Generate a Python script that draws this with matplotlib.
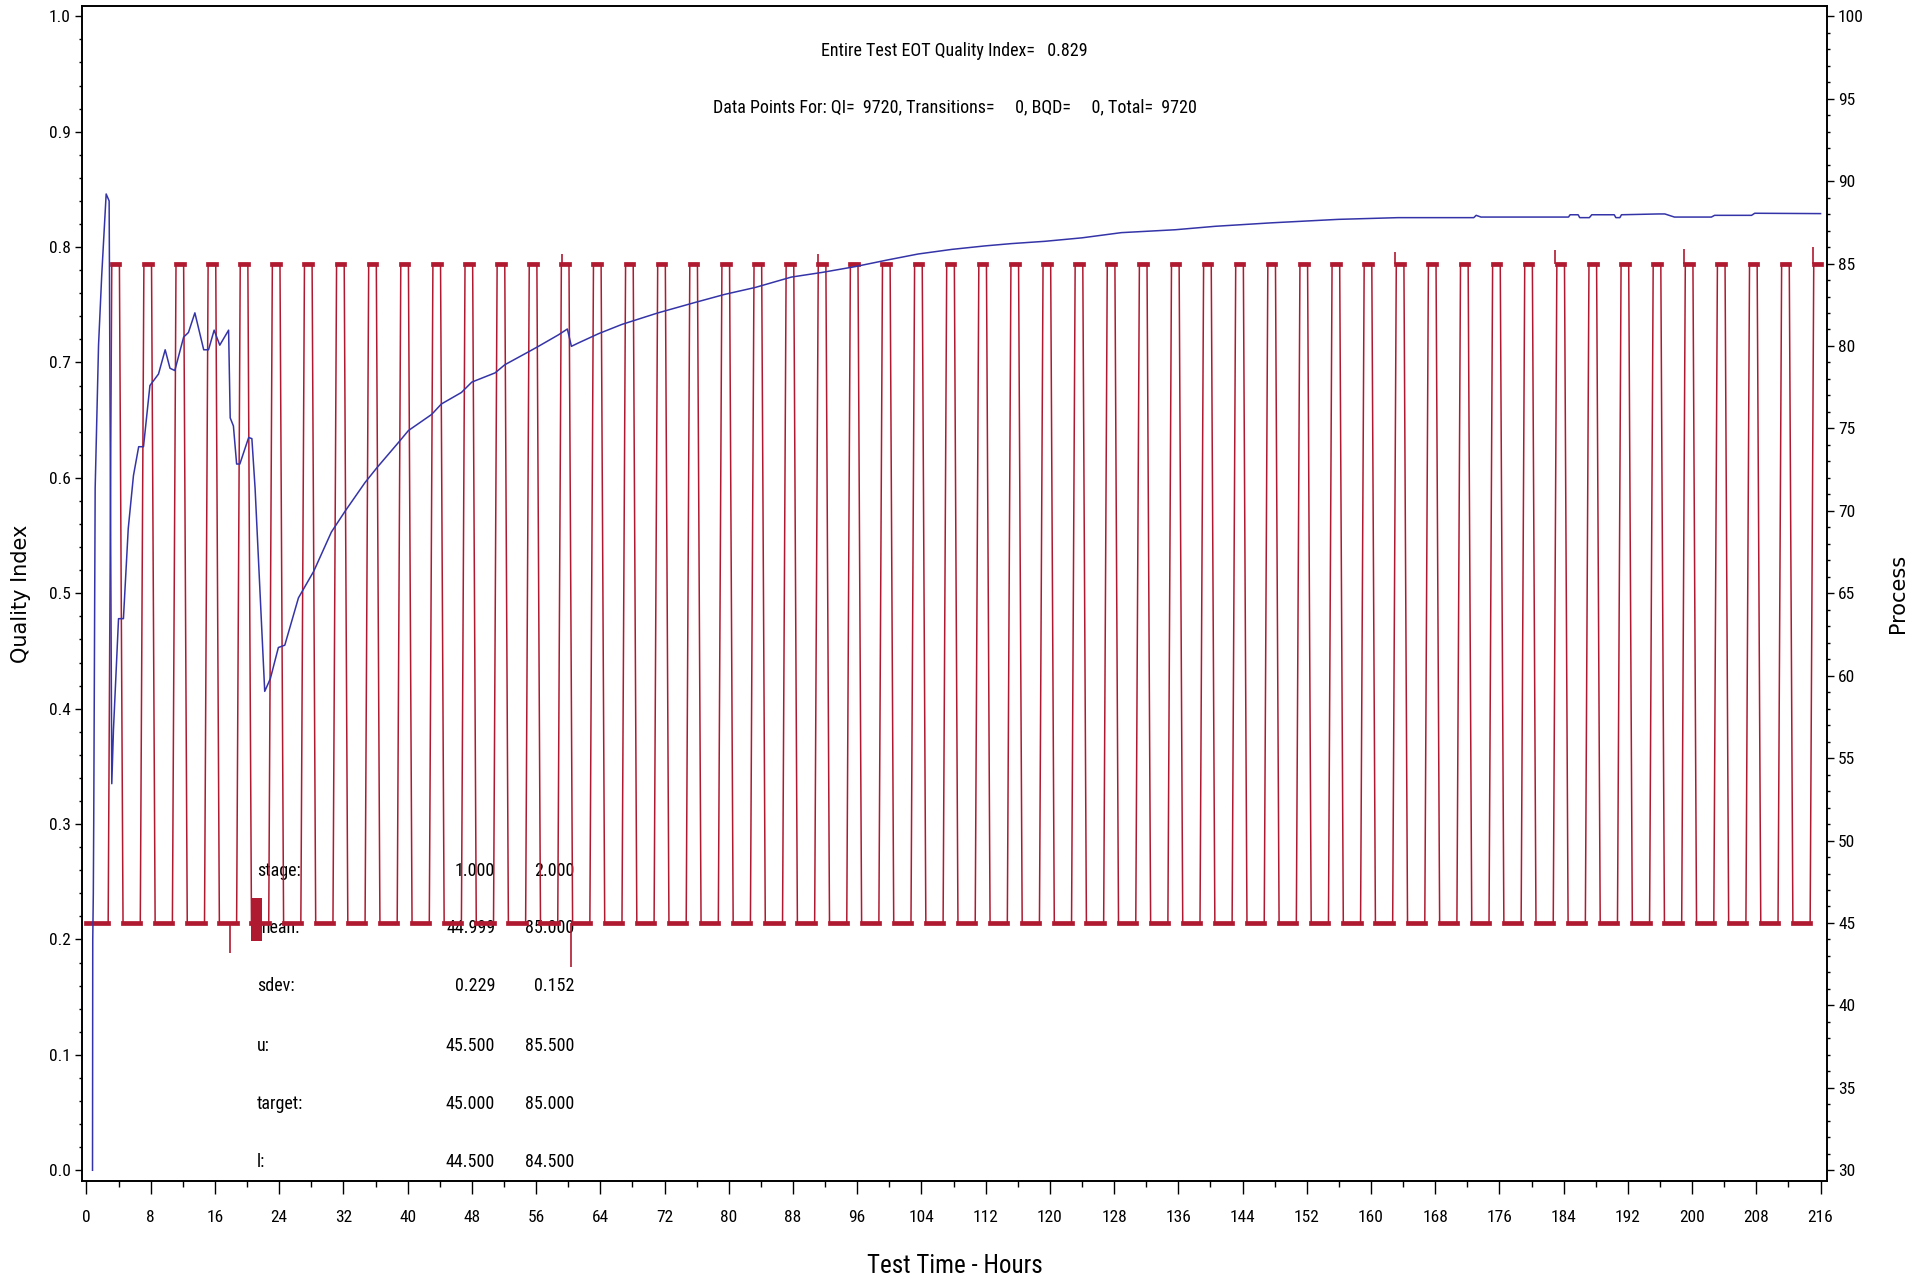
import numpy as np
import matplotlib
matplotlib.use("Agg")
import matplotlib.pyplot as plt
from matplotlib import font_manager
from matplotlib.ticker import MultipleLocator, FormatStrFormatter

# quality index (blue, left axis): hours, QI
qi_hours = [0.75, 0.78, 0.85, 0.9, 1.08, 1.5, 1.9, 2.45, 2.82, 3.15, 3.36, 3.99, 4.6,
            5.2, 5.85, 6.5, 7.1, 7.9, 8.97, 9.8, 10.4, 11.0, 12.1, 12.7, 13.5, 14.6,
            15.2, 15.9, 16.6, 17.7, 17.9, 18.3, 18.7, 19.1, 20.2, 20.6, 21.0, 22.2,
            22.9, 23.9, 24.7, 26.4, 28.3, 30.5, 32.2, 34.7, 36.2, 38.9, 40.1, 43.0,
            44.2, 46.7, 48.0, 50.9, 52.1, 55.0, 56.3, 58.8, 59.9, 60.4, 61.3, 63.8,
            66.7, 71.2, 75.8, 79.5, 83.3, 87.8, 91.6, 95.7, 99.9, 103.6, 107.8, 111.9,
            115.2, 119.4, 124.0, 128.9, 135.6, 140.6, 147.6, 155.9, 163.4, 172.8,
            173.1, 173.7, 184.6, 184.8, 185.8, 186.0, 187.2, 187.5, 190.3, 190.5,
            191.0, 191.2, 195.8, 196.6, 197.8, 202.4, 202.8, 207.4, 207.8, 216.0]
qi_values = [0.0, 0.2, 0.24, 0.3, 0.591, 0.715, 0.776, 0.846, 0.840, 0.335, 0.382, 0.478,
             0.478, 0.556, 0.602, 0.627, 0.627, 0.680, 0.690, 0.711, 0.695, 0.693, 0.722,
             0.726, 0.743, 0.711, 0.711, 0.728, 0.715, 0.728, 0.652, 0.645, 0.612, 0.612,
             0.635, 0.634, 0.591, 0.415, 0.426, 0.453, 0.455, 0.496, 0.519, 0.553, 0.571,
             0.596, 0.609, 0.631, 0.641, 0.655, 0.664, 0.674, 0.683, 0.691, 0.698, 0.709,
             0.714, 0.724, 0.729, 0.714, 0.717, 0.725, 0.733, 0.743, 0.752, 0.759, 0.765,
             0.774, 0.778, 0.783, 0.789, 0.794, 0.798, 0.801, 0.803, 0.805, 0.808, 0.8125,
             0.815, 0.818, 0.821, 0.824, 0.8255, 0.8255, 0.8275, 0.826, 0.826, 0.828,
             0.828, 0.8255, 0.8255, 0.828, 0.828, 0.8255, 0.8255, 0.828, 0.8287, 0.8287,
             0.826, 0.826, 0.8275, 0.8275, 0.8293, 0.829]

# process (red, right axis): start of each temperature rise, hours
pulse_start = [2.7, 6.7, 10.7, 14.7, 18.7, 22.7, 26.7, 30.7, 34.7, 38.7, 42.7, 46.7,
               50.7, 54.7, 58.7, 62.7, 66.7, 70.7, 74.7, 78.7, 82.7, 86.7, 90.7, 94.7,
               98.7, 102.7, 106.7, 110.7, 114.7, 118.7, 122.7, 126.7, 130.7, 134.7,
               138.7, 142.7, 146.7, 150.7, 154.7, 158.7, 162.7, 166.7, 170.7, 174.7,
               178.7, 182.7, 186.7, 190.7, 194.7, 198.7, 202.7, 206.7, 210.7, 214.7]
low_level = 45.0
high_level = 85.0
ramp_up = 0.45
hold_high = 0.95
ramp_down = 0.45
spike_hours = [17.9, 60.4, 59.2, 91.1, 163.0, 182.9, 199.0, 215.0]
spike_values = [43.2, 42.3, 85.6, 85.6, 85.7, 85.8, 85.9, 86.0]

stat_rows = ["stage:", "mean:", "sdev:", "u:", "target:", "l:"]
stage1 = ["1.000", "44.999", "0.229", "45.500", "45.000", "44.500"]
stage2 = ["2.000", "85.000", "0.152", "85.500", "85.000", "84.500"]
row_qi = [0.259, 0.210, 0.160, 0.108, 0.057, 0.007]

end_hour = 216.0

# narrow font for the SAS-style text, pick whatever condensed face is installed
narrow_path = None
for want in ["LiberationSansNarrow-Regular", "RobotoCondensed-Regular",
             "OpenSans_Condensed-Regular", "OpenSansCondensed", "DejaVuSansCondensed.ttf"]:
    for f in font_manager.fontManager.ttflist:
        if want.lower() in f.fname.lower():
            narrow_path = f.fname
            break
    if narrow_path:
        break


def nf(size):
    if narrow_path:
        return font_manager.FontProperties(fname=narrow_path, size=size)
    return font_manager.FontProperties(family="DejaVu Sans", stretch="condensed", size=size)


# build the red trace from the pulse timing
pt, pv = [0.0], [low_level]
for s in pulse_start:
    pt += [s, s + ramp_up, s + ramp_up + hold_high, s + ramp_up + hold_high + ramp_down]
    pv += [low_level, high_level, high_level, low_level]
pt = np.array(pt)
pv = np.array(pv)
keep = pt < end_hour
pt = np.append(pt[keep], end_hour)
pv = np.append(pv[keep], high_level)

red = "#b01a30"
blue = "#3434a8"

fig = plt.figure(figsize=(19.25, 12.8), dpi=100)
ax = fig.add_axes([82 / 1925, 1 - 1181 / 1280, (1827 - 82) / 1925, (1181 - 6) / 1280])
ax2 = ax.twinx()
ax.set_zorder(ax2.get_zorder() + 1)
ax.patch.set_visible(False)

# red process trace
ax2.plot(pt, pv, color=red, lw=1.1, zorder=2)
lows = [(0.0, pulse_start[0])]
for a, b in zip(pulse_start[:-1], pulse_start[1:]):
    lows.append((a + ramp_up + hold_high + ramp_down, b))
for a, b in lows:
    ax2.plot([a, b], [low_level, low_level], color=red, lw=3.4, zorder=3)
for s in pulse_start:
    e = min(s + ramp_up + hold_high, end_hour)
    ax2.plot([s + ramp_up, e], [high_level, high_level], color=red, lw=3.4, zorder=3)
ax2.vlines(spike_hours, [high_level if v > 60 else low_level for v in spike_values],
           spike_values, color=red, lw=1.2, zorder=3)
ax2.fill_between([20.5, 21.9], [43.9, 43.9], [46.5, 46.5], color=red, lw=0, zorder=3)

# blue quality index
ax.plot(qi_hours, qi_values, color=blue, lw=1.1, zorder=4)

# stats table, under the traces
for lab, a, b, y in zip(stat_rows, stage1, stage2, row_qi):
    ax2.text(21.2, y, lab, transform=ax.transData, fontproperties=nf(13), va="center", ha="left", zorder=1)
    ax2.text(50.9, y, a, transform=ax.transData, fontproperties=nf(13), va="center", ha="right", zorder=1)
    ax2.text(60.8, y, b, transform=ax.transData, fontproperties=nf(13), va="center", ha="right", zorder=1)

ax.text(0.5, 0.962, "Entire Test EOT Quality Index=   0.829", transform=ax.transAxes,
        ha="center", va="center", fontproperties=nf(13))
ax.text(0.5, 0.914, "Data Points For: QI=  9720, Transitions=     0, BQD=     0, Total=  9720",
        transform=ax.transAxes, ha="center", va="center", fontproperties=nf(13))

# axes, ticks
ax.set_xlim(-0.56, 216.8)
ax.set_ylim(-0.0093, 1.0089)
ax2.set_ylim(30 + 70 * -0.0093, 30 + 70 * 1.0089)
ax.xaxis.set_major_locator(MultipleLocator(8))
ax.xaxis.set_minor_locator(MultipleLocator(4))
ax.yaxis.set_major_locator(MultipleLocator(0.1))
ax.yaxis.set_minor_locator(MultipleLocator(0.02))
ax.yaxis.set_major_formatter(FormatStrFormatter("%.1f"))
ax2.yaxis.set_major_locator(MultipleLocator(5))
ax2.yaxis.set_minor_locator(MultipleLocator(1))

ax.tick_params(axis="x", which="major", length=9, width=1.0, pad=12)
ax.tick_params(axis="x", which="minor", length=4.5, width=1.0)
ax.tick_params(axis="y", which="major", length=5, width=1.0, pad=3)
ax.tick_params(axis="y", which="minor", length=2.5, width=1.0)
ax2.tick_params(axis="y", which="major", length=5, width=1.0, pad=3)
ax2.tick_params(axis="y", which="minor", length=2.5, width=1.0)
for lab in ax.get_xticklabels() + ax.get_yticklabels() + ax2.get_yticklabels():
    lab.set_fontproperties(nf(12.5))
for a in (ax, ax2):
    for sp in a.spines.values():
        sp.set_linewidth(1.2)

ax.set_xlabel("Test Time - Hours", fontproperties=nf(18))
ax.xaxis.set_label_coords(0.5, -0.062)
ax.set_ylabel("Quality Index", fontsize=15, family="DejaVu Sans")
ax.yaxis.set_label_coords(-0.0292, 0.5)
ax2.set_ylabel("Process", fontsize=15, family="DejaVu Sans")
ax2.yaxis.set_label_coords(1.035, 0.5)

fig.savefig("out.png", dpi=100)
